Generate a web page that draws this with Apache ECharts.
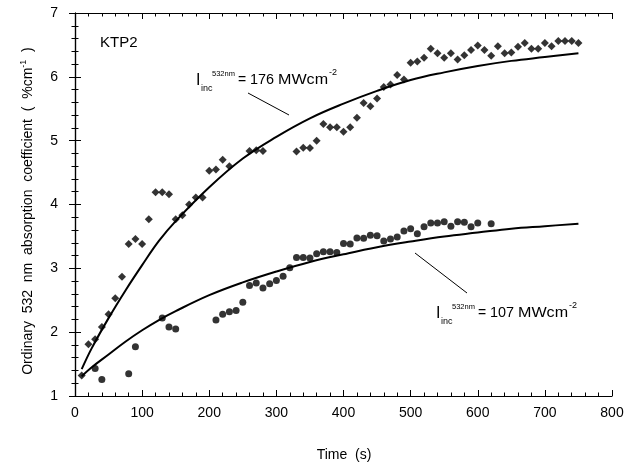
<!DOCTYPE html>
<html>
<head>
<meta charset="utf-8">
<script src="https://cdn.jsdelivr.net/npm/echarts@6/dist/echarts.min.js"></script>
<style>html,body{margin:0;padding:0;background:#fff;}#c{width:636px;height:466px;}</style>
</head>
<body>
<div id="c"></div>
<script>
// ---- data ----
var diamondTime = [10,20,30,40,50,60,70,80,90,100,110,120,130,140,150,160,170,180,190,200,210,220,230,
  260,270,280,
  330,340,350,360,370,380,390,400,410,420,430,440,450,460,470,480,490,500,510,520,530,540,550,560,570,580,590,600,610,620,630,640,650,660,670,680,690,700,710,720,730,740,750];
var diamondAbs = [1.32,1.81,1.89,2.08,2.28,2.53,2.87,3.38,3.46,3.38,3.77,4.19,4.19,4.16,3.77,3.83,4.00,4.11,4.11,4.53,4.55,4.70,4.60,
  4.84,4.85,4.84,
  4.83,4.89,4.885,5.00,5.26,5.21,5.21,5.14,5.21,5.36,5.59,5.54,5.66,5.84,5.88,6.03,5.96,6.22,6.24,6.30,6.44,6.37,6.30,6.37,6.27,6.34,6.42,6.49,6.42,6.33,6.48,6.37,6.38,6.47,6.53,6.44,6.44,6.53,6.48,6.56,6.56,6.56,6.53];

var circleTime = [30,40,80,90,130,140,150,
  210,220,230,240,250,260,270,280,290,300,310,320,330,340,350,360,370,380,390,400,410,420,430,440,450,460,470,480,490,500,510,520,530,540,550,560,570,580,590,600,620];
var circleAbs = [1.43,1.26,1.35,1.77,2.22,2.08,2.05,
  2.19,2.28,2.32,2.34,2.47,2.73,2.77,2.69,2.76,2.81,2.875,3.01,3.17,3.17,3.16,3.23,3.26,3.26,3.25,3.39,3.38,3.475,3.47,3.52,3.51,3.43,3.46,3.49,3.585,3.62,3.54,3.65,3.71,3.71,3.73,3.66,3.73,3.72,3.65,3.71,3.70];

var curveTime = [10,25,50,75,100,125,150,200,250,300,350,400,450,500,550,600,650,700,750];
var curve176 = [1.42,1.75,2.22,2.65,3.05,3.43,3.74,4.27,4.72,5.06,5.35,5.58,5.78,5.95,6.07,6.17,6.25,6.31,6.37];
var curve107 = [1.31,1.45,1.65,1.85,2.03,2.19,2.33,2.58,2.78,2.95,3.10,3.22,3.33,3.42,3.50,3.56,3.62,3.66,3.70];

var xTicks = [0,100,200,300,400,500,600,700,800];
var yTicks = [1,2,3,4,5,6,7];

function pairs(xs, ys){ return xs.map(function(x,i){ return [x, ys[i]]; }); }

var FONT = "'Liberation Sans', Arial, Helvetica, sans-serif";
var chart = echarts.init(document.getElementById('c'), null, {renderer:'canvas'});

function axisCommon(showLabel){
  return {
    axisLine:{show:true, lineStyle:{color:'#000', width:1.2}},
    axisTick:{show:true, inside:true, length:6, lineStyle:{color:'#000', width:1}},
    minorTick:{show:true, splitNumber:5, length:3.5, lineStyle:{color:'#000', width:1}},
    splitLine:{show:false},
    axisLabel:{show:showLabel, color:'#000', fontSize:14, fontFamily:FONT}
  };
}

var xBottom = Object.assign(axisCommon(true), {type:'value', position:'bottom', min:xTicks[0], max:xTicks[xTicks.length-1], interval:100});
xBottom.axisLabel.margin = 10;
var xTop = Object.assign(axisCommon(false), {type:'value', position:'top', min:xTicks[0], max:xTicks[xTicks.length-1], interval:100});
var yLeft = Object.assign(axisCommon(true), {type:'value', position:'left', min:yTicks[0], max:yTicks[yTicks.length-1], interval:1});
yLeft.axisLabel.margin = 17;
var yRight = Object.assign(axisCommon(false), {type:'value', position:'right', min:yTicks[0], max:yTicks[yTicks.length-1], interval:1});

function txt(x, y, s, size, align, sx){
  return {type:'text', x:x, y:y, scaleX: sx || 1, silent:true,
    style:{text:s, font: size + 'px ' + FONT, fill:'#000', textAlign: align || 'left', textVerticalAlign:'middle'}};
}

function intensityLabel(x0, yc, value){
  return [
    txt(x0, yc + 0.5, 'I', 16),
    txt(x0 + 5, yc + 8.5, 'inc', 9),
    txt(x0 + 16, yc - 7, '532nm', 7.5),
    txt(x0 + 42, yc, '=', 14),
    txt(x0 + 54, yc, value, 14, 'left', 1.03),
    txt(x0 + 82, yc, 'MWcm', 14, 'left', 1.15),
    txt(x0 + 133, yc - 8, '-2', 9)
  ];
}

var graphics = [txt(100, 43, 'KTP2', 15)];
graphics = graphics.concat(intensityLabel(196, 80.5, '176'));
graphics.push({type:'line', silent:true, shape:{x1:248, y1:93, x2:289, y2:115}, style:{stroke:'#000', lineWidth:1}});
graphics = graphics.concat(intensityLabel(436, 313.5, '107'));
graphics.push({type:'line', silent:true, shape:{x1:415, y1:253, x2:467, y2:293}, style:{stroke:'#000', lineWidth:1}});
graphics.push(txt(344, 455, 'Time  (s)', 14, 'center'));
graphics.push({type:'text', x:27, y:211, rotation:Math.PI/2, silent:true,
  style:{
    text:'{a|Ordinary  532  nm  absorption  coefficient  (  %cm}{s|-1}{a|  )}',
    textAlign:'center', textVerticalAlign:'middle',
    rich:{
      a:{fontSize:14, fontFamily:FONT, color:'#000', lineHeight:16, verticalAlign:'bottom'},
      s:{fontSize:9, fontFamily:FONT, color:'#000', lineHeight:16, verticalAlign:'top', padding:[0,0,8,0]}
    }
  }});

var option = {
  animation:false,
  backgroundColor:'#fff',
  grid:{left:75, right:24, top:13, bottom:70, containLabel:false},
  xAxis:[xBottom, xTop],
  yAxis:[yLeft, yRight],
  series:[
    {type:'line', data:pairs(curveTime, curve176), smooth:0.4, showSymbol:false, lineStyle:{color:'#000', width:2}, z:2},
    {type:'line', data:pairs(curveTime, curve107), smooth:0.4, showSymbol:false, lineStyle:{color:'#000', width:2}, z:2},
    {type:'scatter', data:pairs(diamondTime, diamondAbs), symbol:'diamond', symbolSize:8, itemStyle:{color:'#000'}, z:3},
    {type:'scatter', data:pairs(circleTime, circleAbs), symbol:'circle', symbolSize:7, itemStyle:{color:'#000'}, z:3}
  ],
  graphic: graphics
};
chart.setOption(option);
</script>
</body>
</html>
